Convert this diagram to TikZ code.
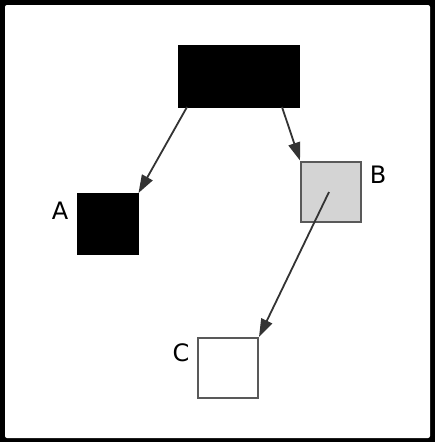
\documentclass[tikz,border=0pt]{standalone}
\usepackage{fontspec}
\setmainfont{DejaVu Sans}
\usetikzlibrary{arrows.meta,positioning}
\tikzset{
	boite/.style={draw, line width=2pt, minimum width=60pt, minimum height=60pt, inner sep=0pt},
	fleche/.style={line width=1.8pt, draw=black!80, -{Triangle[length=18pt,width=12pt]}},
	lettre/.style={font=\fontsize{24}{24}\selectfont, inner sep=0pt}
}

\begin{document}
\begin{tikzpicture}[x=1pt, y=-1pt]

	% cadre
	\fill [black] (0,0) rectangle (435,442);
	\fill [white, rounded corners=2pt] (5,5) rectangle (430,438);
	\useasboundingbox (0,0) rectangle (435,442);

	\node [boite, fill=black, draw=black, minimum width=120pt, minimum height=61pt] (haut) at (239,76.5) {};
	\node [boite, fill=black, draw=black] (a) at (107.5,224) {};
	\node [boite, fill=black!17, draw=black!65] (b) at (331,191.5) {};
	\node [boite, fill=white, draw=black!65] (c) at (228,368) {};

	\node [lettre] (la) at (60,211) {A};
	\node [lettre] (lb) at (378,175) {B};
	\node [lettre] (lc) at (181,353) {C};

	\coordinate (depart-a) at (187,107);
	\coordinate (depart-b) at (282,107);
	\coordinate (depart-c) at (329,192);

	\draw [fleche] (depart-a) -- (a.north east);
	\draw [fleche] (depart-b) -- (b.north west);
	\draw [fleche] (depart-c) -- (c.north east);

\end{tikzpicture}
\end{document}
